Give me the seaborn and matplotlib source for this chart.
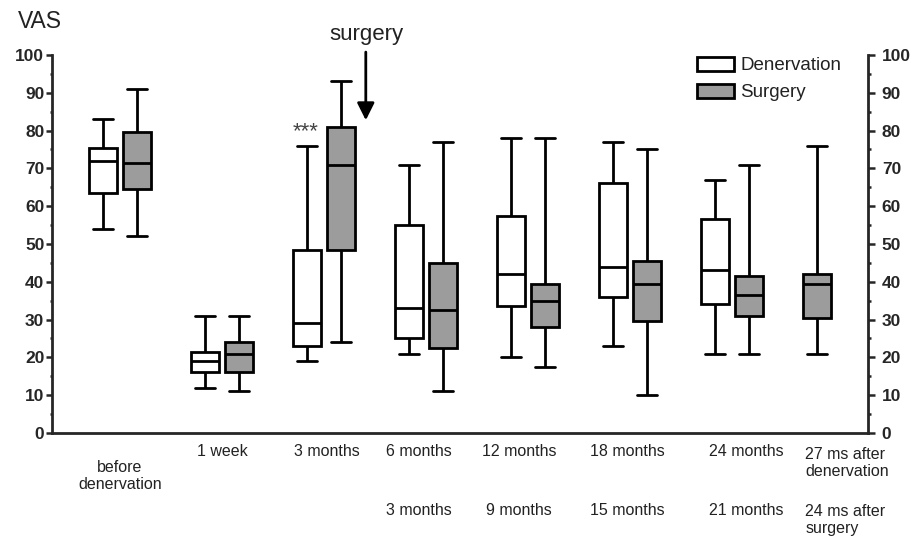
#!/usr/bin/env python3
"""VAS box plots: denervation vs surgery over follow-up."""

import matplotlib
matplotlib.use("Agg")
import matplotlib.pyplot as plt
from matplotlib.ticker import MultipleLocator
import pandas as pd
import seaborn as sns

periods = ["before", "1w", "3m", "6m", "12m", "18m", "24m", "27m"]
top_labels = ["before\ndenervation", "1 week", "3 months", "6 months",
              "12 months", "18 months", "24 months", "27 ms after\ndenervation"]
bottom_labels = ["", "", "", "3 months", "9 months", "15 months",
                 "21 months", "24 ms after\nsurgery"]

# min, q1, median, q3, max
denervation = [
    [54, 63.5, 72, 75.5, 83],
    [12, 16, 19, 21.5, 31],
    [19, 23, 29, 48.5, 76],
    [21, 25, 33, 55, 71],
    [20, 33.5, 42, 57.5, 78],
    [23, 36, 44, 66, 77],
    [21, 34, 43, 56.5, 67],
]
surgery = [
    [52, 64.5, 71.5, 79.5, 91],
    [11, 16, 21, 24, 31],
    [24, 48.5, 71, 81, 93],
    [11, 22.5, 32.5, 45, 77],
    [17.5, 28, 35, 39.5, 78],
    [10, 29.5, 39.5, 45.5, 75],
    [21, 31, 36.5, 41.5, 71],
    [21, 30.5, 39.5, 42, 76],
]

rows = []
for p, vals in zip(periods, denervation):
    rows += [{"period": p, "group": "Denervation", "vas": v} for v in vals]
for p, vals in zip(periods, surgery):
    rows += [{"period": p, "group": "Surgery", "vas": v} for v in vals]
df = pd.DataFrame(rows)

sns.set_theme(style="ticks")
plt.rcParams["font.family"] = ["Liberation Sans", "DejaVu Sans"]

palette = {"Denervation": "white", "Surgery": "#9c9c9c"}
box_kw = dict(x="period", y="vas", order=periods, palette=palette,
              whis=(0, 100), width=0.67, gap=0.18, linecolor="black",
              linewidth=2.0, dodge=True, capwidths=0.2)

fig = plt.figure(figsize=(9.23, 5.39), dpi=100)
ax = fig.add_axes([0.0563, 0.1967, 0.884, 0.7013])

paired = df[df["period"] != "27m"]
sns.boxplot(data=paired, hue="group", hue_order=["Denervation", "Surgery"],
            ax=ax, **box_kw)
# last time point has only the surgery group, drawn in the first slot
last = df[df["period"] == "27m"]
sns.boxplot(data=last, hue="group", hue_order=["Surgery", "Denervation"],
            ax=ax, legend=False, **box_kw)

ax.set_xlim(-0.667, 7.333)
ax.set_ylim(0, 100)
ax.set_xlabel("")
ax.set_ylabel("")
ax.set_xticks([])
ax.yaxis.set_major_locator(MultipleLocator(10))
ax.yaxis.set_minor_locator(MultipleLocator(5))
ax.tick_params(axis="y", which="major", length=4.5, width=1.8, pad=1,
               labelsize=12.5)
ax.tick_params(axis="y", which="minor", length=1.5, width=1.8)
for lab in ax.get_yticklabels():
    lab.set_fontweight("bold")
for side in ["top", "right"]:
    ax.spines[side].set_visible(False)
for side in ["left", "bottom"]:
    ax.spines[side].set_linewidth(2.0)

ax2 = ax.twinx()
ax2.set_ylim(0, 100)
ax2.yaxis.set_major_locator(MultipleLocator(10))
ax2.yaxis.set_minor_locator(MultipleLocator(5))
ax2.tick_params(axis="y", which="major", length=5, width=1.8, pad=5,
                labelsize=12.5)
ax2.tick_params(axis="y", which="minor", length=2.5, width=1.8)
for lab in ax2.get_yticklabels():
    lab.set_fontweight("bold")
for side in ["top", "left", "bottom"]:
    ax2.spines[side].set_visible(False)
ax2.spines["right"].set_linewidth(2.0)

# category labels, two rows
trans = ax.get_xaxis_transform()
label_fs = 11.5
label_nudge = [0, 0, 0.03, -0.07, -0.09, -0.03, 0.14, 0]
for i, (t, b) in enumerate(zip(top_labels, bottom_labels)):
    x = i + label_nudge[i]
    if i == 0:
        ax.text(x, -0.114, t, transform=trans, ha="center", va="center",
                fontsize=label_fs, color="#222222", linespacing=1.2)
    elif i == len(periods) - 1:
        ax.text(6.72, -0.079, t, transform=trans, ha="left", va="center",
                fontsize=label_fs, color="#222222", linespacing=1.2)
        ax.text(6.72, -0.23, b, transform=trans, ha="left", va="center",
                fontsize=label_fs, color="#222222", linespacing=1.2)
    else:
        ax.text(x, -0.05, t, transform=trans, ha="center", va="center",
                fontsize=label_fs, color="#222222")
        if b:
            ax.text(x, -0.204, b, transform=trans, ha="center", va="center",
                    fontsize=label_fs, color="#222222")

fig.text(18 / 923, 1 - 21 / 539, "VAS", fontsize=16.5, va="center",
         color="#222222")

ax.text(2.42, 105.5, "surgery", ha="center", va="center", fontsize=16,
        color="#222222", clip_on=False)
ax.annotate("", xy=(2.41, 82), xytext=(2.41, 101.5),
            arrowprops=dict(arrowstyle="-|>", lw=2, color="black",
                            mutation_scale=26),
            annotation_clip=False)
ax.text(1.82, 79.8, "***", ha="center", va="center", fontsize=16,
        color="#444444")

sns.move_legend(ax, "upper left", bbox_to_anchor=(0.77, 1.04),
                frameon=False, title=None, fontsize=13.5, handlelength=1.97,
                handleheight=0.8, labelspacing=0.5, handletextpad=0.35)
leg = ax.get_legend()
for h in leg.legend_handles:
    h.set_edgecolor("black")
    h.set_linewidth(2.0)
for txt in leg.get_texts():
    txt.set_color("#222222")

fig.savefig("out.png", dpi=100)
